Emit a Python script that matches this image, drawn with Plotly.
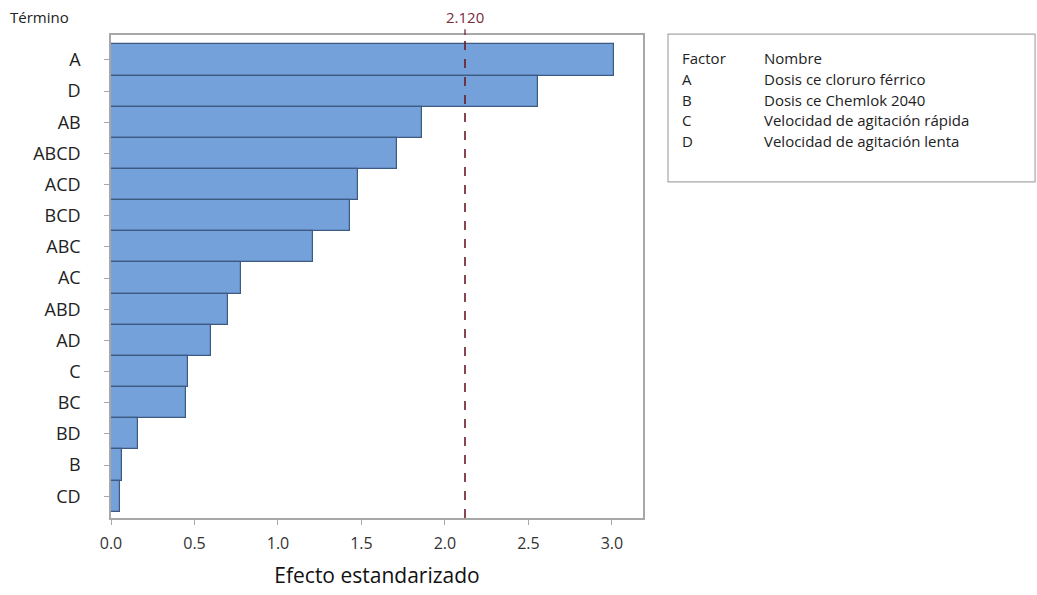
import plotly.graph_objects as go

# Pareto of standardized effects
terms = ["A", "D", "AB", "ABCD", "ACD", "BCD", "ABC", "AC", "ABD", "AD",
         "C", "BC", "BD", "B", "CD"]
effects = [3.01, 2.56, 1.86, 1.71, 1.48, 1.43, 1.21, 0.78, 0.70, 0.60,
           0.46, 0.45, 0.16, 0.065, 0.055]
critical = 2.120

factor_codes = ["A", "B", "C", "D"]
factor_names = ["Dosis ce cloruro férrico", "Dosis ce Chemlok 2040",
                "Velocidad de agitación rápida", "Velocidad de agitación lenta"]

FONT = "Open Sans"
GRID = "#A8A8A8"

fig = go.Figure()
fig.add_trace(go.Bar(
    x=effects, y=terms, orientation="h", width=1.0,
    marker=dict(color="#74A1DA", line=dict(color="#3D5A82", width=1.2)),
    showlegend=False,
))

# critical value reference line
fig.add_shape(type="line", xref="x", yref="paper", x0=critical, x1=critical,
              y0=0, y1=1, line=dict(color="#6A1A22", width=1.6, dash="dash"))
fig.add_shape(type="line", xref="x", yref="paper", x0=critical, x1=critical,
              y0=1, y1=1.012, line=dict(color="#6A1A22", width=1.2))
fig.add_annotation(x=critical, y=1.013, xref="x", yref="paper",
                   text=f"{critical:.3f}", showarrow=False, yanchor="bottom",
                   font=dict(family=FONT, size=15, color="#7A2B3A"))

# y-axis heading
fig.add_annotation(x=-0.194, y=1.037, xref="paper", yref="paper",
                   xanchor="left", yanchor="middle", text="Término",
                   showarrow=False, font=dict(family=FONT, size=15, color="#222"))
# factor key box
fig.add_shape(type="rect", xref="paper", yref="paper", x0=1.047, x1=1.737,
              y0=0.696, y1=1.002, line=dict(color=GRID, width=1.2),
              fillcolor="white")
rows_y = [0.952, 0.908, 0.866, 0.824, 0.781]
for code, name, yy in zip(["Factor"] + factor_codes,
                          ["Nombre"] + factor_names, rows_y):
    fig.add_annotation(x=1.069, y=yy, xref="paper", yref="paper",
                       xanchor="left", yanchor="middle", text=code,
                       showarrow=False,
                       font=dict(family=FONT, size=15, color="#222"))
    fig.add_annotation(x=1.2237, y=yy, xref="paper", yref="paper",
                       xanchor="left", yanchor="middle", text=name,
                       showarrow=False,
                       font=dict(family=FONT, size=15, color="#222"))

fig.update_layout(
    width=1037, height=595,
    margin=dict(l=111, r=394, t=35, b=77),
    paper_bgcolor="white", plot_bgcolor="white",
    bargap=0,
    font=dict(family=FONT, color="#222"),
    xaxis=dict(
        range=[0, 3.186], tickvals=[0, 0.5, 1.0, 1.5, 2.0, 2.5, 3.0],
        ticktext=["0.0", "0.5", "1.0", "1.5", "2.0", "2.5", "3.0"],
        showgrid=False, zeroline=False, showline=True, mirror=True,
        linecolor=GRID, linewidth=1.5, ticks="outside", ticklen=5,
        tickcolor=GRID, tickfont=dict(size=16, color="#333"),
        ticklabelstandoff=5,
        title=dict(text="Efecto estandarizado", standoff=15,
                   font=dict(size=21, color="#111")),
    ),
    yaxis=dict(
        type="category", categoryorder="array", categoryarray=terms,
        range=[14.7, -0.8], showgrid=False, zeroline=False,
        showline=True, mirror=True, linecolor=GRID, linewidth=1.5,
        ticks="outside", ticklen=5, tickcolor=GRID,
        tickfont=dict(size=18, color="#222"), ticklabelstandoff=20,
    ),
)

fig.write_html("out.html")
